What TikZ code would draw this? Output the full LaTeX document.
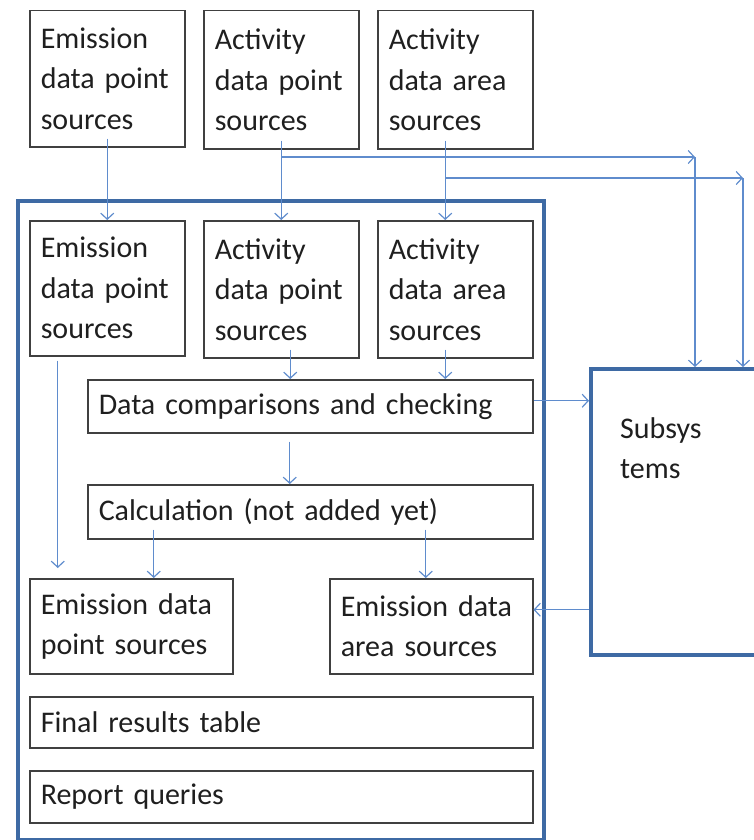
\documentclass[tikz,border=0pt]{standalone}
\usepackage{fontspec}
\setmainfont{Carlito}
\usetikzlibrary{arrows.meta,calc}
\definecolor{boxgray}{RGB}{64,64,64}
\definecolor{thickblue}{RGB}{62,106,164}
\definecolor{arrblue}{RGB}{95,140,205}
\newcommand\myfs{\fontsize{30}{40.5}\selectfont}
\begin{document}
\begin{tikzpicture}[x=1pt,y=-1pt,
  box/.style={draw=boxgray, line width=1.5pt, inner xsep=11pt, inner ysep=0pt,
    align=left, anchor=north west, font=\myfs, text=black!88},
  thickbox/.style={draw=thickblue, line width=3.5pt, anchor=north west, inner sep=0pt},
  arr/.style={draw=arrblue, line width=1.2pt, -{Straight Barb[length=6pt,width=13pt]}}]
\useasboundingbox (0,0) rectangle (753,840);
% outer system box
\node[thickbox, minimum width=526pt, minimum height=639pt] (sys) at (16,199) {};
% subsystems box
\node[thickbox, minimum width=181pt, minimum height=286pt] (sub) at (589,367) {};
\node[font=\myfs, anchor=north west, inner sep=0pt, align=left, text=black!88] (subt) at (620,417) {Subsys\\tems};
% top row
\node[box, text width=133pt, minimum height=136pt] (t1) at (29,10) {Emission\\data point\\sources};
\node[box, text width=133pt, minimum height=138pt] (t2) at (203,10) {Activity\\data point\\sources};
\node[box, text width=133pt, minimum height=138pt] (t3) at (377,10) {Activity\\data area\\sources};
% second row
\node[box, text width=133pt, minimum height=135pt] (m1) at (29,220) {Emission\\data point\\sources};
\node[box, text width=133pt, minimum height=137pt] (m2) at (203,220) {Activity\\data point\\sources};
\node[box, text width=133pt, minimum height=137pt] (m3) at (377,220) {Activity\\data area\\sources};
% wide boxes
\node[box, text width=423pt, minimum height=53pt] (dc) at (87,379) {Data comparisons and checking};
\node[box, text width=423pt, minimum height=54pt] (calc) at (87,484) {Calculation (not added yet)};
\node[box, text width=181pt, minimum height=95pt] (ep) at (29,578) {Emission data\\point sources};
\node[box, text width=181pt, minimum height=95pt] (ea) at (329,578) {Emission data\\area sources};
\node[box, text width=481pt, minimum height=51pt] (fr) at (29,696) {Final results table};
\node[box, text width=481pt, minimum height=52pt] (rq) at (29,770) {Report queries};
% connectors
\coordinate (c1) at (695,157);
\coordinate (c2) at (743,178);
\draw[arr] ([yshift=9pt]t1.south) -- (m1.north);
\draw[arr] ([yshift=9pt]t2.south) -- (m2.north);
\draw[arr] ([xshift=-10pt,yshift=9pt]t3.south) -- ([xshift=-10pt]m3.north);
\draw[arr] (t2.south |- c1) -- (c1);
\draw[arr] (c1) -- (c1 |- sub.north);
\draw[arr] ([xshift=-10pt]t3.south |- c2) -- (c2);
\draw[arr] (c2) -- (c2 |- sub.north);
\draw[arr] ([xshift=9pt,yshift=9pt]m2.south) -- ([xshift=9pt]m2.south |- dc.north);
\draw[arr] ([xshift=-10pt,yshift=9pt]m3.south) -- ([xshift=-10pt]m3.south |- dc.north);
\draw[arr] ([xshift=-49.5pt,yshift=-4pt]m1.south) -- ([xshift=-49.5pt,yshift=10pt]m1.south |- ep.north);
\draw[arr] ([xshift=-20.5pt,yshift=-8pt]dc.south) -- ([xshift=-20.5pt]dc.south |- calc.north);
\draw[arr] ([xshift=-156.5pt,yshift=10pt]calc.south) -- ([xshift=-156.5pt]calc.south |- ep.north);
\draw[arr] ([xshift=115.5pt,yshift=10pt]calc.south) -- ([xshift=115.5pt]calc.south |- ea.north);
\draw[arr] ([yshift=5.5pt]dc.east) -- ([yshift=5.5pt]dc.east -| sub.west);
\draw[arr] ([yshift=16.5pt]ea.east -| sub.west) -- ([yshift=16.5pt]ea.east);
\end{tikzpicture}
\end{document}
